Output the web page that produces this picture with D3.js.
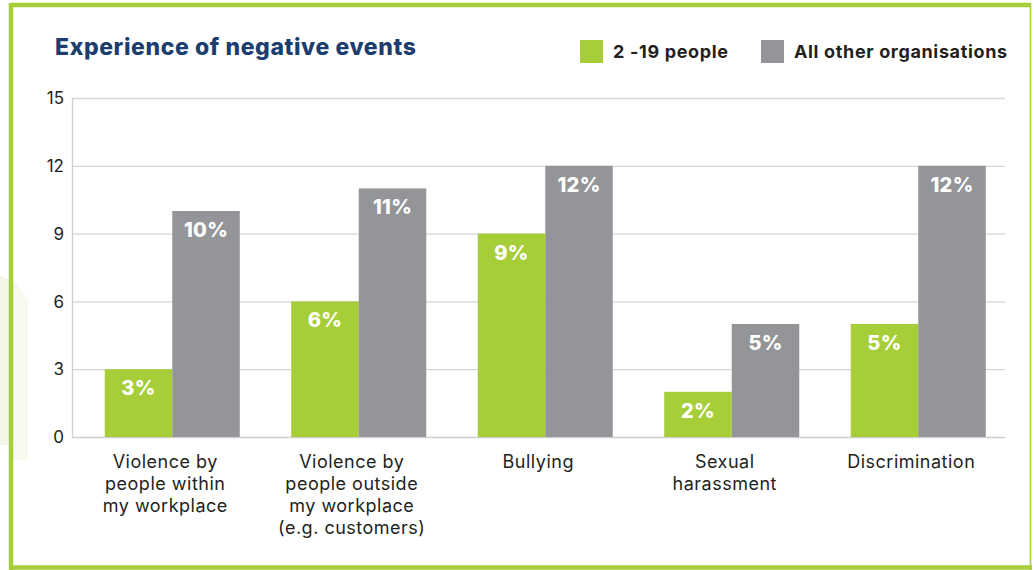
<!DOCTYPE html>
<html><head><meta charset="utf-8">
<script src="https://cdn.jsdelivr.net/npm/d3@7"></script>
<style>
html,body{margin:0;padding:0;background:#fff;}
svg{display:block;}
text{font-family:Inter,"Open Sans",sans-serif;}
</style></head>
<body>
<svg id="chart" width="1034" height="570"></svg>
<script>
const title = "Experience of negative events";
const categories = [
  ["Violence by","people within","my workplace"],
  ["Violence by","people outside","my workplace","(e.g. customers)"],
  ["Bullying"],
  ["Sexual","harassment"],
  ["Discrimination"]
];
const seriesNames = ["2 -19 people", "All other organisations"];
const small = [3, 6, 9, 2, 5];
const others = [10, 11, 12, 5, 12];
const yTicks = [0, 3, 6, 9, 12, 15];
const colors = ["#a6ce39", "#939598"];

(function(){
const svg = d3.select("#chart");
const W = 1034, H = 570;

// faint background tint on the left
svg.append("path").attr("d","M0,275 L9,280 L9,445 L0,445 Z").attr("fill","#f2f7e6");
svg.append("path").attr("d","M13,280 L28,300 L28,460 L13,460 Z").attr("fill","#f6f9ee");

// border
svg.append("line").attr("x1",11).attr("x2",1031).attr("y1",5).attr("y2",5).attr("stroke","#a6ce39").attr("stroke-width",4.5);
svg.append("line").attr("x1",11).attr("x2",11).attr("y1",3).attr("y2",570).attr("stroke","#a6ce39").attr("stroke-width",4.5);
svg.append("line").attr("x1",9).attr("x2",1032).attr("y1",567.5).attr("y2",567.5).attr("stroke","#a6ce39").attr("stroke-width",4.5);
svg.append("line").attr("x1",1030.5).attr("x2",1030.5).attr("y1",3).attr("y2",570).attr("stroke","#a6ce39").attr("stroke-width",1.6);

const pl = 72, pr = 1005, pt = 98, pb = 437;
const y = d3.scaleLinear().domain([0,15]).range([pb, pt]);
const x0 = d3.scaleBand().domain(d3.range(categories.length)).range([79, 1011.5]).paddingInner(0.276).paddingOuter(0.138);
const x1 = d3.scaleBand().domain([0,1]).range([0, x0.bandwidth()]);

// grid
svg.append("g").selectAll("line").data(yTicks).join("line")
  .attr("x1", pl).attr("x2", pr)
  .attr("y1", d => y(d)+0.5).attr("y2", d => y(d)+0.5)
  .attr("stroke", d => d===0 ? "#cfcfcf" : "#d6d6d6").attr("stroke-width", 1.3);
svg.append("line").attr("x1",pl+0.5).attr("x2",pl+0.5).attr("y1",pt).attr("y2",pb+1).attr("stroke","#d0d0d0").attr("stroke-width",1.3);

// y tick labels
svg.append("g").selectAll("text").data(yTicks).join("text")
  .attr("x", 64).attr("y", d => y(d)).attr("dy","0.36em")
  .attr("text-anchor","end").attr("font-size",17).attr("fill","#231f20")
  .text(d => d);

// bars
const data = categories.map((c,i) => [small[i], others[i]]);
const groups = svg.append("g").selectAll("g").data(data).join("g")
  .attr("transform", (d,i) => `translate(${x0(i)},0)`);
groups.selectAll("rect").data(d => d).join("rect")
  .attr("x", (d,j) => x1(j)).attr("width", x1.bandwidth())
  .attr("y", d => y(d)).attr("height", d => pb - y(d))
  .attr("fill", (d,j) => colors[j]);
groups.selectAll("text").data(d => d).join("text")
  .attr("x", (d,j) => x1(j) + x1.bandwidth()/2)
  .attr("y", d => y(d) + 26)
  .attr("text-anchor","middle").attr("font-size",20).attr("font-weight",800)
  .attr("letter-spacing",0.3)
  .attr("fill","#fff").text(d => d + "%");

// x labels
categories.forEach((lines,i) => {
  const cx = x0(i) + x0.bandwidth()/2 - 7;
  const t = svg.append("text").attr("text-anchor","middle").attr("font-size",18)
    .attr("letter-spacing",0.5).attr("fill","#231f20");
  lines.forEach((ln,k) => {
    t.append("tspan").attr("x", cx).attr("y", 468 + k*22).text(ln);
  });
});

// title
svg.append("text").attr("x",55).attr("y",55).attr("font-size",23).attr("font-weight",800)
  .attr("letter-spacing",0.6).attr("fill","#1b3e6f").text(title);

// legend
const legX = [580, 761];
seriesNames.forEach((s,i) => {
  svg.append("rect").attr("x",legX[i]).attr("y",40).attr("width",23).attr("height",23).attr("fill",colors[i]);
  svg.append("text").attr("x",legX[i]+33).attr("y",51.5).attr("dy","0.36em")
    .attr("font-size",18).attr("font-weight",700).attr("letter-spacing",0.65).attr("fill","#231f20").text(s);
});
})();
</script>
</body></html>
